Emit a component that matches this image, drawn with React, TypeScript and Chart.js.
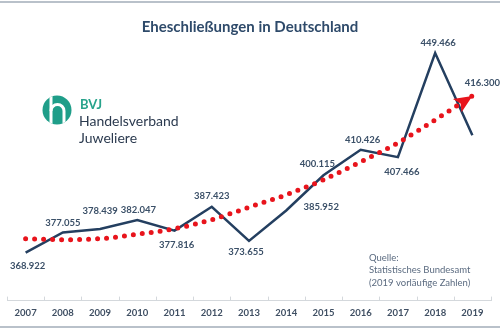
import React, { useEffect, useRef } from "react";
import { Chart, registerables } from "chart.js";

Chart.register(...registerables);

const years = ["2007", "2008", "2009", "2010", "2011", "2012", "2013", "2014", "2015", "2016", "2017", "2018", "2019"];
const marriages = [368922, 377055, 378439, 382047, 377816, 387423, 373655, 385952, 400115, 410426, 407466, 449466, 416300];
const trend = [374560, 374160, 374560, 376370, 378590, 382210, 387250, 392280, 398320, 405570, 413220, 422490, 432150];

const title = "Eheschließungen in Deutschland";
const sourceLines = ["Quelle:", "Statistisches Bundesamt", "(2019 vorläufige Zahlen)"];
const logoLines = ["BVJ", "Handelsverband", "Juweliere"];

// label offsets relative to each point (styling only)
const labelOffsets: [number, number][] = [
  [2, 13], [0, -10], [0, -18], [1, -10], [2, 14], [0, -11], [-3, 11],
  [35, -4], [-6, -11], [2, -10], [4, 15], [3, -10], [10, -52],
];

const LINE = "#243f60";
const RED = "#e8141c";
const LABEL = "#3b5068";

function fmt(v: number) {
  const s = String(Math.round(v));
  return s.replace(/\B(?=(\d{3})+(?!\d))/g, ".");
}

const decor = {
  id: "decor",
  beforeDraw(chart: any) {
    const ctx = chart.ctx;
    ctx.save();
    ctx.fillStyle = "#ffffff";
    ctx.fillRect(0, 0, chart.width, chart.height);
    // frame lines
    ctx.strokeStyle = "#b9c1ca";
    ctx.lineWidth = 2;
    ctx.beginPath();
    ctx.moveTo(0, 2);
    ctx.lineTo(500, 2);
    ctx.moveTo(0, 327);
    ctx.lineTo(500, 327);
    ctx.stroke();
    // title
    ctx.fillStyle = "#2e4a6a";
    ctx.font = "bold 15px Lato";
    ctx.textAlign = "center";
    ctx.textBaseline = "middle";
    ctx.fillText(title, 250, 27);
    // logo
    ctx.fillStyle = "#1f9e89";
    ctx.beginPath();
    ctx.arc(57, 110, 14.5, 0, Math.PI * 2);
    ctx.fill();
    ctx.save();
    ctx.beginPath();
    ctx.arc(57, 110, 14.5, 0, Math.PI * 2);
    ctx.clip();
    ctx.strokeStyle = "#ffffff";
    ctx.lineWidth = 3;
    ctx.beginPath();
    ctx.moveTo(51, 94);
    ctx.lineTo(51, 127);
    ctx.stroke();
    ctx.beginPath();
    ctx.moveTo(51, 111);
    ctx.arc(57.5, 111, 6.5, Math.PI, 0);
    ctx.lineTo(64, 127);
    ctx.stroke();
    ctx.restore();
    ctx.textAlign = "left";
    ctx.fillStyle = "#27a38b";
    ctx.font = "bold 13px Lato";
    ctx.fillText(logoLines[0], 80, 105);
    ctx.fillStyle = "#2b3a4f";
    ctx.font = "14px Lato";
    ctx.fillText(logoLines[1], 79, 121);
    ctx.fillText(logoLines[2], 79, 138);
    // source
    ctx.fillStyle = "#5b6b80";
    ctx.font = "9.5px Lato";
    sourceLines.forEach((t, i) => ctx.fillText(t, 369, 258 + i * 12.3));
    ctx.restore();
  },
  afterDatasetsDraw(chart: any) {
    const ctx = chart.ctx;
    ctx.save();
    // arrow head on trend
    const tMeta = chart.getDatasetMeta(0);
    const n = tMeta.data.length;
    const p1 = tMeta.data[n - 2];
    const p2 = tMeta.data[n - 1];
    const ang = Math.atan2(p2.y - p1.y, p2.x - p1.x);
    const len = 18;
    const hw = 8;
    const bx = p2.x - Math.cos(ang) * len;
    const by = p2.y - Math.sin(ang) * len;
    ctx.fillStyle = RED;
    ctx.beginPath();
    ctx.moveTo(p2.x, p2.y);
    ctx.lineTo(bx + Math.sin(ang) * hw, by - Math.cos(ang) * hw);
    ctx.lineTo(bx + Math.cos(ang) * 4, by + Math.sin(ang) * 4);
    ctx.lineTo(bx - Math.sin(ang) * hw, by + Math.cos(ang) * hw);
    ctx.closePath();
    ctx.fill();
    // data labels
    const meta = chart.getDatasetMeta(1);
    ctx.fillStyle = LABEL;
    ctx.font = "bold 9.5px Lato";
    ctx.textAlign = "center";
    ctx.textBaseline = "middle";
    meta.data.forEach((pt: any, i: number) => {
      const [dx, dy] = labelOffsets[i];
      ctx.fillText(fmt(marriages[i]), pt.x + dx, pt.y + dy);
    });
    ctx.restore();
  },
  afterDraw(chart: any) {
    const ctx = chart.ctx;
    const a = chart.chartArea;
    ctx.save();
    ctx.strokeStyle = "#d4d8dc";
    ctx.lineWidth = 1;
    const w = (a.right - a.left) / years.length;
    ctx.beginPath();
    for (let i = 0; i <= years.length; i++) {
      const x = Math.round(a.left + i * w) + 0.5;
      ctx.moveTo(x, a.bottom - 4);
      ctx.lineTo(x, a.bottom);
    }
    ctx.stroke();
    ctx.restore();
  },
};

export default function App() {
  const ref = useRef<HTMLCanvasElement | null>(null);
  useEffect(() => {
    if (!ref.current) return;
    const chart = new Chart(ref.current, {
      type: "line",
      data: {
        labels: years,
        datasets: [
          {
            label: "Trend",
            data: trend,
            borderColor: RED,
            borderWidth: 5,
            borderDash: [0, 9],
            borderCapStyle: "round",
            pointRadius: 0,
            tension: 0.4,
            cubicInterpolationMode: "monotone",
            fill: false,
            order: 0,
          },
          {
            label: "Eheschließungen",
            data: marriages,
            borderColor: LINE,
            borderWidth: 2.5,
            pointRadius: 0,
            tension: 0,
            fill: false,
            order: 1,
          },
        ],
      },
      options: {
        responsive: true,
        maintainAspectRatio: false,
        animation: false,
        layout: { padding: { left: 7, right: 9, top: 40, bottom: 4 } },
        plugins: { legend: { display: false }, tooltip: { enabled: false }, title: { display: false } },
        scales: {
          x: {
            offset: true,
            grid: { display: false, drawTicks: false },
            border: { display: true, color: "#d4d8dc", width: 1 },
            ticks: {
              padding: 7,
              color: "#3f4f63",
              font: { family: "Lato", size: 9.5, weight: "bold" },
              maxRotation: 0,
              autoSkip: false,
            },
          },
          y: { display: false, min: 349590, max: 454700 },
        },
      },
      plugins: [decor],
    } as any);
    return () => chart.destroy();
  }, []);
  return (
    <div style={{ position: "fixed", left: 0, top: 0, width: 500, height: 330, background: "#fff" }}>
      <canvas ref={ref} />
    </div>
  );
}
